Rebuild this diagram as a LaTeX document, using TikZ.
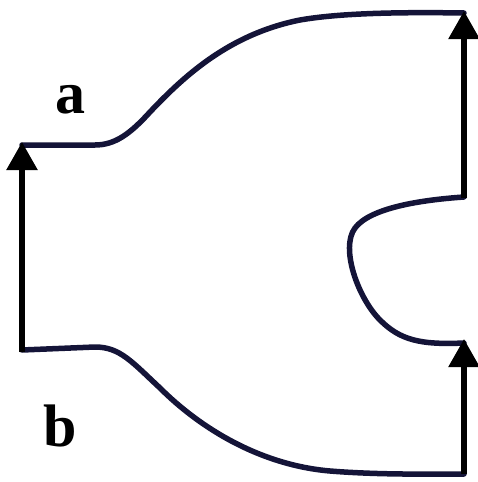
\documentclass[tikz,border=0pt]{standalone}
\usepackage{fontspec}
\setmainfont{Liberation Serif}
\usetikzlibrary{arrows.meta}
\definecolor{navy}{HTML}{141438}
\tikzset{
  outline/.style={draw=navy, line width=5.5pt, line cap=round, line join=round},
  flow/.style={draw=black, line width=5.5pt, -{Triangle[length=28pt,width=30pt]}},
  lbl/.style={font=\fontsize{60}{60}\selectfont\bfseries, inner sep=0pt}
}
\begin{document}
\begin{tikzpicture}[x=1pt,y=-1pt]
\useasboundingbox (0,0) rectangle (477,482);
\coordinate (A0) at (22,352);
\coordinate (A1) at (22,142);
\coordinate (B0) at (464,198);
\coordinate (B1) at (464,11);
\coordinate (C0) at (464,474);
\coordinate (C1) at (464,339);
% top boundary
\draw[outline] (22,145) -- (95,145) .. controls (115,145) and (130,134) .. (150,112)
  .. controls (185,75) and (230,34) .. (300,20) .. controls (340,13) and (400,12) .. (464,13);
% right notch
\draw[outline] (464,197) .. controls (420,200) and (370,208) .. (355,228)
  .. controls (340,248) and (358,298) .. (380,320) .. controls (400,340) and (420,345) .. (464,343);
% bottom boundary
\draw[outline] (22,350) -- (95,347) .. controls (120,347) and (132,362) .. (160,388)
  .. controls (200,428) and (260,465) .. (330,471) .. controls (380,475) and (430,474) .. (464,474);
% arrows
\draw[flow] (A0) -- (A1);
\draw[flow] (B0) -- (B1);
\draw[flow] (C0) -- (C1);
\node[lbl] (la) at (70,100) {a};
\node[lbl] (lb) at (60,426) {b};
\end{tikzpicture}
\end{document}
